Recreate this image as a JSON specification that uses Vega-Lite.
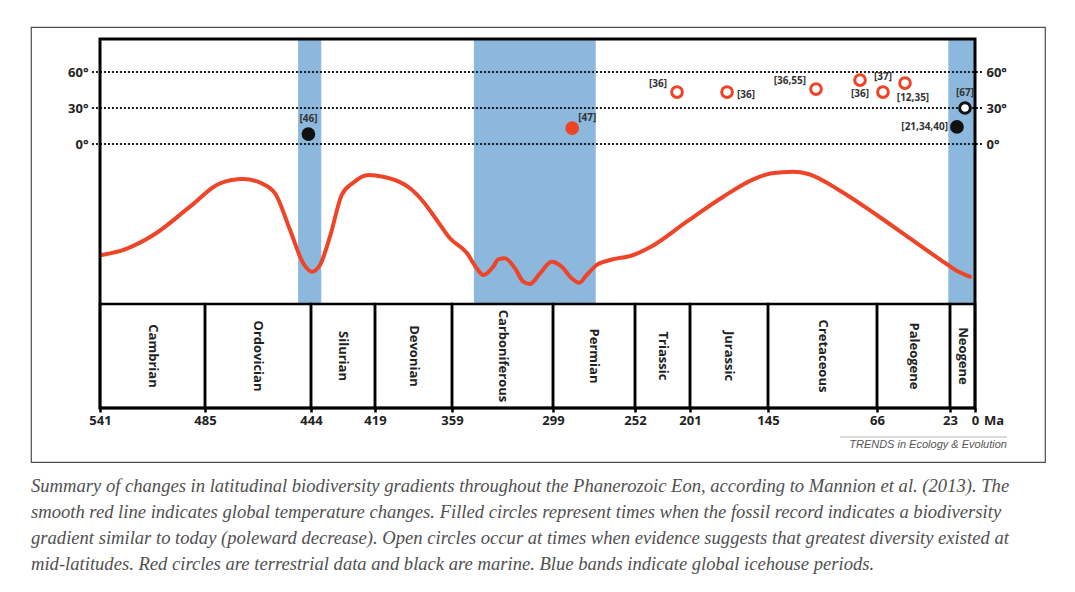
{
  "$schema": "https://vega.github.io/schema/vega-lite/v6.json",
  "width": 1014,
  "height": 435,
  "autosize": {"type": "none"},
  "padding": {"left": 31, "top": 27, "right": 30, "bottom": 130},
  "background": "white",
  "config": {
    "view": {"stroke": "#4d4d4d", "strokeWidth": 1.2},
    "text": {"font": "Open Sans"},
    "axisX": {
      "domain": false, "grid": false,
      "ticks": true, "tickSize": 4, "tickWidth": 2.5, "tickColor": "#000000",
      "labelFont": "Open Sans", "labelFontWeight": "bold", "labelFontSize": 13,
      "labelColor": "#222222", "labelPadding": 2,
      "labelFlush": false, "labelOverlap": false, "labelBound": false
    }
  },
  "title": {
    "text": [
      "Summary of changes in latitudinal biodiversity gradients throughout the Phanerozoic Eon, according to Mannion et al. (2013). The",
      "smooth red line indicates global temperature changes. Filled circles represent times when the fossil record indicates a biodiversity",
      "gradient similar to today (poleward decrease). Open circles occur at times when evidence suggests that greatest diversity existed at",
      "mid-latitudes. Red circles are terrestrial data and black are marine. Blue bands indicate global icehouse periods."
    ],
    "orient": "bottom",
    "anchor": "start",
    "frame": "group",
    "offset": 15,
    "font": "Liberation Serif",
    "fontSize": 18.6,
    "fontStyle": "italic",
    "fontWeight": "normal",
    "color": "#505050",
    "lineHeight": 26
  },
  "datasets": {
    "periods": [
      {"period": "Cambrian", "start": 541, "end": 485, "mid": 513},
      {"period": "Ordovician", "start": 485, "end": 444, "mid": 464.5},
      {"period": "Silurian", "start": 444, "end": 419, "mid": 431.5},
      {"period": "Devonian", "start": 419, "end": 359, "mid": 389},
      {"period": "Carboniferous", "start": 359, "end": 299, "mid": 329},
      {"period": "Permian", "start": 299, "end": 252, "mid": 275.5},
      {"period": "Triassic", "start": 252, "end": 201, "mid": 226.5},
      {"period": "Jurassic", "start": 201, "end": 145, "mid": 173},
      {"period": "Cretaceous", "start": 145, "end": 66, "mid": 105.5},
      {"period": "Paleogene", "start": 66, "end": 23, "mid": 44.5},
      {"period": "Neogene", "start": 23, "end": 0, "mid": 11.5}
    ],
    "icehouse": [
      {"start": 449, "end": 440},
      {"start": 346, "end": 274.5},
      {"start": 24, "end": 0}
    ],
    "latlines": [{"lat": 0}, {"lat": 30}, {"lat": 60}],
    "temperature": [
      {"age": 540.1, "relTemp": 35},
      {"age": 527.7, "relTemp": 40.7},
      {"age": 511.7, "relTemp": 56},
      {"age": 493, "relTemp": 83.3},
      {"age": 479.2, "relTemp": 106.7},
      {"age": 470.2, "relTemp": 111},
      {"age": 463.7, "relTemp": 107.3},
      {"age": 457.9, "relTemp": 96.7},
      {"age": 452.1, "relTemp": 60},
      {"age": 447, "relTemp": 26.7},
      {"age": 443.7, "relTemp": 18.3},
      {"age": 440.5, "relTemp": 25},
      {"age": 436.6, "relTemp": 53.3},
      {"age": 432, "relTemp": 95},
      {"age": 427.5, "relTemp": 107.3},
      {"age": 421.6, "relTemp": 115},
      {"age": 412.5, "relTemp": 113.3},
      {"age": 402.1, "relTemp": 109.3},
      {"age": 391.7, "relTemp": 101.7},
      {"age": 381.4, "relTemp": 88.3},
      {"age": 370.9, "relTemp": 70},
      {"age": 360.6, "relTemp": 51.7},
      {"age": 350.3, "relTemp": 37.3},
      {"age": 344.3, "relTemp": 21.7},
      {"age": 340.4, "relTemp": 15},
      {"age": 334.5, "relTemp": 23.3},
      {"age": 331.5, "relTemp": 30.7},
      {"age": 327.5, "relTemp": 31.7},
      {"age": 321.6, "relTemp": 21.7},
      {"age": 316.6, "relTemp": 8.3},
      {"age": 312.7, "relTemp": 6},
      {"age": 306.7, "relTemp": 16.7},
      {"age": 299.8, "relTemp": 28.3},
      {"age": 294, "relTemp": 23.3},
      {"age": 288.3, "relTemp": 11.7},
      {"age": 283.9, "relTemp": 7.3},
      {"age": 279.7, "relTemp": 15},
      {"age": 274, "relTemp": 25},
      {"age": 266.3, "relTemp": 30},
      {"age": 252.9, "relTemp": 35},
      {"age": 238.1, "relTemp": 42.7},
      {"age": 204.1, "relTemp": 68.3},
      {"age": 177.1, "relTemp": 93.3},
      {"age": 155.6, "relTemp": 110.7},
      {"age": 142.3, "relTemp": 116.7},
      {"age": 126.7, "relTemp": 118.3},
      {"age": 115.8, "relTemp": 116},
      {"age": 92.8, "relTemp": 99.3},
      {"age": 66.2, "relTemp": 75},
      {"age": 46.6, "relTemp": 51.7},
      {"age": 25, "relTemp": 26},
      {"age": 16.8, "relTemp": 19.3},
      {"age": 4.6, "relTemp": 13.3}
    ],
    "records": [
      {"ref": "[46]", "age": 445, "lat": 8.3, "realm": "marine", "kind": "filled", "pos": "above"},
      {"ref": "[47]", "age": 288, "lat": 13.3, "realm": "terrestrial", "kind": "filled", "pos": "above-right"},
      {"ref": "[36]", "age": 213, "lat": 43.3, "realm": "terrestrial", "kind": "open", "pos": "above-left"},
      {"ref": "[36]", "age": 174.4, "lat": 43.3, "realm": "terrestrial", "kind": "open", "pos": "right"},
      {"ref": "[36,55]", "age": 110.2, "lat": 45.8, "realm": "terrestrial", "kind": "open", "pos": "above-left"},
      {"ref": "[36]", "age": 78.3, "lat": 53.3, "realm": "terrestrial", "kind": "open", "pos": "below"},
      {"ref": "[37]", "age": 62.5, "lat": 43.3, "realm": "terrestrial", "kind": "open", "pos": "above"},
      {"ref": "[12,35]", "age": 49.5, "lat": 50.8, "realm": "terrestrial", "kind": "open", "pos": "below-right"},
      {"ref": "[67]", "age": 9.2, "lat": 30, "realm": "marine", "kind": "open", "pos": "above"},
      {"ref": "[21,34,40]", "age": 16.6, "lat": 14.2, "realm": "marine", "kind": "filled", "pos": "left"}
    ]
  },
  "resolve": {"scale": {"y": "independent"}},
  "layer": [
    {
      "data": {"name": "icehouse"},
      "mark": {"type": "rect", "color": "#8cb8dd"},
      "encoding": {
        "x": {
          "field": "start", "type": "quantitative",
          "scale": {
            "domain": [541, 485, 444, 419, 359, 299, 252, 201, 145, 66, 23, 0],
            "range": [69, 174, 280, 344, 421, 522, 604, 659, 737, 846, 919, 944],
            "zero": false, "nice": false
          },
          "axis": {
            "values": [541, 485, 444, 419, 359, 299, 252, 201, 145, 66, 23, 0],
            "orient": "bottom", "offset": -54, "title": null, "format": "d",
            "domain": false, "grid": false, "ticks": true, "tickSize": 4, "tickWidth": 2.5, "tickColor": "#000000",
            "labelFont": "Open Sans", "labelFontWeight": "bold", "labelFontSize": 13,
            "labelColor": "#222222", "labelPadding": 2,
            "labelFlush": false, "labelOverlap": false, "labelBound": false
          }
        },
        "x2": {"field": "end"},
        "y": {
          "datum": 1, "type": "quantitative",
          "scale": {"domain": [0, 1, 2], "range": [381, 277, 12], "zero": false, "nice": false},
          "axis": null
        },
        "y2": {"datum": 2}
      }
    },
    {
      "data": {"name": "latlines"},
      "mark": {"type": "rule", "color": "#1a1a1a", "strokeWidth": 2, "strokeDash": [2, 2]},
      "encoding": {
        "x": {"datum": 545.3, "type": "quantitative"},
        "x2": {"datum": -7.4},
        "y": {
          "field": "lat", "type": "quantitative",
          "scale": {"domain": [0, 60], "range": [117, 45], "zero": false, "nice": false},
          "axis": {
            "orient": "right", "offset": -61, "values": [0, 30, 60], "title": null,
            "domain": false, "ticks": false, "tickSize": 0, "grid": false,
            "labelPadding": 2, "labelExpr": "datum.value + '°'",
            "labelFont": "Open Sans", "labelFontWeight": "bold", "labelFontSize": 13, "labelColor": "#222222"
          }
        }
      }
    },
    {
      "data": {"name": "latlines"},
      "mark": {"type": "rule", "strokeWidth": 0, "opacity": 0},
      "encoding": {
        "x": {"datum": 545.3, "type": "quantitative"},
        "x2": {"datum": 541},
        "y": {
          "field": "lat", "type": "quantitative",
          "scale": {"domain": [0, 60], "range": [117, 45], "zero": false, "nice": false},
          "axis": {
            "orient": "left", "offset": -59, "values": [0, 30, 60], "title": null,
            "domain": false, "ticks": false, "tickSize": 0, "grid": false,
            "labelPadding": 2, "labelExpr": "datum.value + '°'",
            "labelFont": "Open Sans", "labelFontWeight": "bold", "labelFontSize": 13, "labelColor": "#222222"
          }
        }
      }
    },
    {
      "data": {"name": "temperature"},
      "mark": {"type": "line", "color": "#ee4427", "strokeWidth": 4, "interpolate": "monotone", "strokeCap": "round", "strokeJoin": "round"},
      "encoding": {
        "x": {"field": "age", "type": "quantitative"},
        "y": {
          "field": "relTemp", "type": "quantitative",
          "scale": {"domain": [0, 120], "range": [263, 143], "zero": false, "nice": false},
          "axis": null
        }
      }
    },
    {
      "data": {"values": [{"box": "plot"}]},
      "mark": {"type": "rect", "fill": "white", "fillOpacity": 0, "stroke": "#000000", "strokeWidth": 3},
      "encoding": {
        "x": {"datum": 541, "type": "quantitative"},
        "x2": {"datum": 0},
        "y": {"datum": 0, "type": "quantitative", "scale": {"domain": [0, 1, 2], "range": [381, 277, 12], "zero": false, "nice": false}, "axis": null},
        "y2": {"datum": 2}
      }
    },
    {
      "data": {"name": "periods"},
      "mark": {"type": "rect", "fill": "white", "fillOpacity": 0, "stroke": "#000000", "strokeWidth": 2.5},
      "encoding": {
        "x": {"field": "start", "type": "quantitative"},
        "x2": {"field": "end"},
        "y": {"datum": 0, "type": "quantitative", "scale": {"domain": [0, 1, 2], "range": [381, 277, 12], "zero": false, "nice": false}, "axis": null},
        "y2": {"datum": 1}
      }
    },
    {
      "data": {"name": "periods"},
      "mark": {"type": "text", "angle": 90, "align": "center", "baseline": "middle", "font": "Open Sans", "fontWeight": "bold", "fontSize": 13, "color": "#222222"},
      "encoding": {
        "x": {"field": "mid", "type": "quantitative"},
        "y": {"datum": 0.5, "type": "quantitative", "scale": {"domain": [0, 1, 2], "range": [381, 277, 12], "zero": false, "nice": false}, "axis": null},
        "text": {"field": "period"}
      }
    },
    {
      "data": {"values": [{"unit": "Ma"}]},
      "mark": {"type": "text", "align": "left", "baseline": "middle", "font": "Open Sans", "fontWeight": "bold", "fontSize": 13, "color": "#222222"},
      "encoding": {
        "x": {"datum": -8.3, "type": "quantitative"},
        "y": {"datum": -0.125, "type": "quantitative", "scale": {"domain": [0, 1, 2], "range": [381, 277, 12], "zero": false, "nice": false}, "axis": null},
        "text": {"field": "unit"}
      }
    },
    {
      "data": {"values": [{"credit": "TRENDS in Ecology & Evolution"}]},
      "mark": {"type": "rule", "color": "#b5b5b5", "strokeWidth": 1},
      "encoding": {
        "x": {"datum": 92.8, "type": "quantitative"},
        "x2": {"datum": -29.4},
        "y": {"datum": -0.279, "type": "quantitative", "scale": {"domain": [0, 1, 2], "range": [381, 277, 12], "zero": false, "nice": false}, "axis": null}
      }
    },
    {
      "data": {"values": [{"credit": "TRENDS in Ecology & Evolution"}]},
      "mark": {"type": "text", "align": "right", "baseline": "middle", "font": "Liberation Sans", "fontStyle": "italic", "fontSize": 11, "color": "#555555"},
      "encoding": {
        "x": {"datum": -29.4, "type": "quantitative"},
        "y": {"datum": -0.356, "type": "quantitative", "scale": {"domain": [0, 1, 2], "range": [381, 277, 12], "zero": false, "nice": false}, "axis": null},
        "text": {"field": "credit"}
      }
    },
    {
      "data": {"name": "records"},
      "mark": {"type": "point", "shape": "circle", "size": 115, "strokeWidth": 3, "opacity": 1},
      "encoding": {
        "x": {"field": "age", "type": "quantitative"},
        "y": {"field": "lat", "type": "quantitative", "scale": {"domain": [0, 60], "range": [117, 45], "zero": false, "nice": false}, "axis": null},
        "stroke": {
          "field": "realm", "type": "nominal",
          "scale": {"domain": ["terrestrial", "marine"], "range": ["#ee4427", "#111111"]},
          "legend": null
        },
        "fill": {
          "condition": {"test": "datum.kind === 'open'", "value": "#ffffff"},
          "field": "realm", "type": "nominal",
          "scale": {"domain": ["terrestrial", "marine"], "range": ["#ee4427", "#111111"]},
          "legend": null
        }
      }
    },
    {
      "data": {"name": "records"},
      "transform": [{"filter": "datum.pos === 'above'"}],
      "mark": {"type": "text", "align": "center", "baseline": "middle", "dy": -15, "fontSize": 10, "fontWeight": "bold", "color": "#333333"},
      "encoding": {
        "x": {"field": "age", "type": "quantitative"},
        "y": {"field": "lat", "type": "quantitative", "scale": {"domain": [0, 60], "range": [117, 45], "zero": false, "nice": false}, "axis": null},
        "text": {"field": "ref"}
      }
    },
    {
      "data": {"name": "records"},
      "transform": [{"filter": "datum.pos === 'below'"}],
      "mark": {"type": "text", "align": "center", "baseline": "middle", "dy": 14, "fontSize": 10, "fontWeight": "bold", "color": "#333333"},
      "encoding": {
        "x": {"field": "age", "type": "quantitative"},
        "y": {"field": "lat", "type": "quantitative", "scale": {"domain": [0, 60], "range": [117, 45], "zero": false, "nice": false}, "axis": null},
        "text": {"field": "ref"}
      }
    },
    {
      "data": {"name": "records"},
      "transform": [{"filter": "datum.pos === 'below-right'"}],
      "mark": {"type": "text", "align": "center", "baseline": "middle", "dx": 8, "dy": 15, "fontSize": 10, "fontWeight": "bold", "color": "#333333"},
      "encoding": {
        "x": {"field": "age", "type": "quantitative"},
        "y": {"field": "lat", "type": "quantitative", "scale": {"domain": [0, 60], "range": [117, 45], "zero": false, "nice": false}, "axis": null},
        "text": {"field": "ref"}
      }
    },
    {
      "data": {"name": "records"},
      "transform": [{"filter": "datum.pos === 'above-left'"}],
      "mark": {"type": "text", "align": "right", "baseline": "middle", "dx": -10, "dy": -8, "fontSize": 10, "fontWeight": "bold", "color": "#333333"},
      "encoding": {
        "x": {"field": "age", "type": "quantitative"},
        "y": {"field": "lat", "type": "quantitative", "scale": {"domain": [0, 60], "range": [117, 45], "zero": false, "nice": false}, "axis": null},
        "text": {"field": "ref"}
      }
    },
    {
      "data": {"name": "records"},
      "transform": [{"filter": "datum.pos === 'above-right'"}],
      "mark": {"type": "text", "align": "left", "baseline": "middle", "dx": 6, "dy": -10, "fontSize": 10, "fontWeight": "bold", "color": "#333333"},
      "encoding": {
        "x": {"field": "age", "type": "quantitative"},
        "y": {"field": "lat", "type": "quantitative", "scale": {"domain": [0, 60], "range": [117, 45], "zero": false, "nice": false}, "axis": null},
        "text": {"field": "ref"}
      }
    },
    {
      "data": {"name": "records"},
      "transform": [{"filter": "datum.pos === 'right'"}],
      "mark": {"type": "text", "align": "left", "baseline": "middle", "dx": 10, "dy": 3, "fontSize": 10, "fontWeight": "bold", "color": "#333333"},
      "encoding": {
        "x": {"field": "age", "type": "quantitative"},
        "y": {"field": "lat", "type": "quantitative", "scale": {"domain": [0, 60], "range": [117, 45], "zero": false, "nice": false}, "axis": null},
        "text": {"field": "ref"}
      }
    },
    {
      "data": {"name": "records"},
      "transform": [{"filter": "datum.pos === 'left'"}],
      "mark": {"type": "text", "align": "right", "baseline": "middle", "dx": -9, "dy": 0, "fontSize": 10, "fontWeight": "bold", "color": "#333333"},
      "encoding": {
        "x": {"field": "age", "type": "quantitative"},
        "y": {"field": "lat", "type": "quantitative", "scale": {"domain": [0, 60], "range": [117, 45], "zero": false, "nice": false}, "axis": null},
        "text": {"field": "ref"}
      }
    }
  ]
}
